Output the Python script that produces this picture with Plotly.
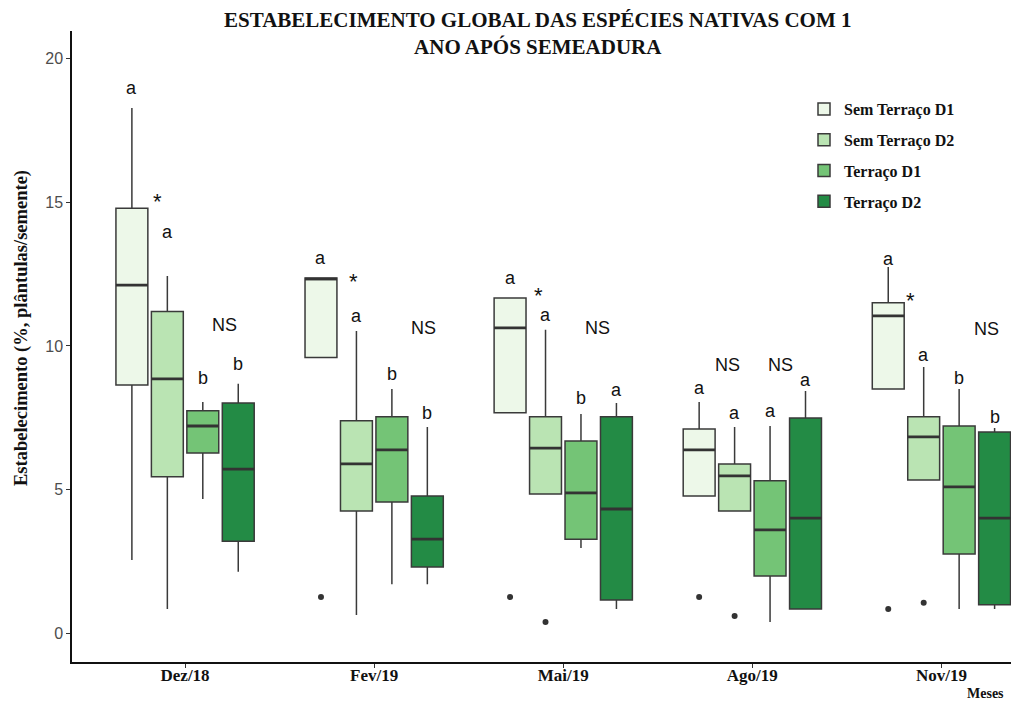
import plotly.graph_objects as go

months = ["Dez/18", "Fev/19", "Mai/19", "Ago/19", "Nov/19"]
groups = ["Sem Terraço D1", "Sem Terraço D2", "Terraço D1", "Terraço D2"]
colors = ["#EDF8E9", "#BAE4B3", "#74C476", "#238B45"]

# box statistics per group (one value per month)
lo_st1 = [2.54, 9.60, 7.67, 4.77, 8.50]
q1_st1 = [8.64, 9.60, 7.67, 4.77, 8.50]
md_st1 = [12.12, 12.33, 10.63, 6.38, 11.05]
q3_st1 = [14.80, 12.37, 11.67, 7.11, 11.50]
hi_st1 = [18.29, 12.37, 11.67, 8.05, 12.75]

lo_st2 = [0.84, 0.63, 4.84, 4.25, 5.33]
q1_st2 = [5.44, 4.25, 4.84, 4.25, 5.33]
md_st2 = [8.85, 5.89, 6.44, 5.47, 6.83]
q3_st2 = [11.20, 7.39, 7.53, 5.89, 7.53]
hi_st2 = [12.44, 10.52, 10.56, 7.18, 9.27]

lo_t1 = [4.67, 1.70, 2.96, 0.38, 0.84]
q1_t1 = [6.27, 4.56, 3.27, 1.99, 2.75]
md_t1 = [7.21, 6.38, 4.88, 3.59, 5.09]
q3_t1 = [7.74, 7.53, 6.69, 5.30, 7.21]
hi_t1 = [8.05, 8.50, 7.63, 7.21, 8.50]

lo_t2 = [2.13, 1.70, 0.84, 0.84, 0.84]
q1_t2 = [3.20, 2.30, 1.15, 0.84, 0.98]
md_t2 = [5.71, 3.27, 4.32, 4.00, 4.00]
q3_t2 = [8.01, 4.77, 7.53, 7.49, 7.00]
hi_t2 = [8.68, 7.18, 8.01, 8.43, 7.14]

# outliers: (month index, value)
out_st1_month = [1, 2, 3, 4]
out_st1_val = [1.25, 1.25, 1.25, 0.84]
out_st2_month = [2, 3, 4]
out_st2_val = [0.38, 0.59, 1.05]

# letters above each box
let_st1 = ["a", "a", "a", "a", "a"]
let_st2 = ["a", "a", "a", "a", "a"]
let_t1 = ["b", "b", "b", "a", "b"]
let_t2 = ["b", "b", "a", "a", "b"]
lety_st1 = [18.99, 13.07, 12.37, 8.54, 13.03]
lety_st2 = [13.97, 11.05, 11.08, 7.67, 9.69]
lety_t1 = [8.89, 9.02, 8.19, 7.74, 8.89]
lety_t2 = [9.37, 7.67, 8.47, 8.82, 7.53]

# asterisks (month index, x offset, y)
star_month = [0, 1, 2, 4]
star_dx = [-0.148, -0.111, -0.132, -0.164]
star_y = [15.19, 12.40, 11.92, 11.74]

# NS labels (month index, x offset, y)
ns_month = [0, 1, 2, 3, 3, 4]
ns_dx = [0.21, 0.26, 0.18, -0.13, 0.15, 0.24]
ns_y = [10.73, 10.63, 10.63, 9.34, 9.34, 10.59]

stats = [
    (lo_st1, q1_st1, md_st1, q3_st1, hi_st1),
    (lo_st2, q1_st2, md_st2, q3_st2, hi_st2),
    (lo_t1, q1_t1, md_t1, q3_t1, hi_t1),
    (lo_t2, q1_t2, md_t2, q3_t2, hi_t2),
]
letters = [let_st1, let_st2, let_t1, let_t2]
letter_ys = [lety_st1, lety_st2, lety_t1, lety_t2]

dodge = 0.75
slot = dodge / len(groups)
bw = slot * 0.9

def pos(m, g):
    return m + (g - (len(groups) - 1) / 2) * slot

SERIF = "Liberation Serif, Times New Roman, serif"
SANS = "Liberation Sans, Arial, sans-serif"

fig = go.Figure()
for g, name in enumerate(groups):
    lo, q1, md, q3, hi = stats[g]
    xs = [pos(m, g) for m in range(len(months))]
    fig.add_trace(go.Box(
        name=name, x=xs, q1=q1, median=md, q3=q3,
        lowerfence=lo, upperfence=hi,
        width=bw, whiskerwidth=0, fillcolor=colors[g],
        line=dict(color="#3a3a3a", width=1.5),
        boxpoints=False, hoverinfo="skip", legendgroup=name,
    ))

# thicker median segments (as in ggplot)
mx, my = [], []
for g in range(len(groups)):
    md = stats[g][2]
    for m in range(len(months)):
        c = pos(m, g)
        mx += [c - bw / 2, c + bw / 2, None]
        my += [md[m], md[m], None]
fig.add_trace(go.Scatter(x=mx, y=my, mode="lines", line=dict(color="#333333", width=2.8),
                         showlegend=False, hoverinfo="skip"))

for gi, (mlist, vals) in enumerate([(out_st1_month, out_st1_val), (out_st2_month, out_st2_val)]):
    fig.add_trace(go.Scatter(
        x=[pos(m, gi) for m in mlist], y=vals, mode="markers",
        marker=dict(color="#333333", size=6), showlegend=False, hoverinfo="skip",
    ))

ann = []
lab_font = dict(family=SANS, size=18, color="#111111")
for g in range(len(groups)):
    for m in range(len(months)):
        ann.append(dict(x=pos(m, g), y=letter_ys[g][m], text=letters[g][m],
                        showarrow=False, font=lab_font, xref="x", yref="y"))
for m, dx, y in zip(star_month, star_dx, star_y):
    ann.append(dict(x=m + dx, y=y - 0.15, text="*", showarrow=False,
                    font=dict(family=SANS, size=22, color="#111111"),
                    xref="x", yref="y"))
for m, dx, y in zip(ns_month, ns_dx, ns_y):
    ann.append(dict(x=m + dx, y=y, text="NS", showarrow=False, font=lab_font,
                    xref="x", yref="y"))

# title
ann.append(dict(x=(537 - 72) / 939, y=(662 - 34) / 631, xref="paper", yref="paper",
                text="ESTABELECIMENTO GLOBAL DAS ESPÉCIES NATIVAS COM 1<br>ANO APÓS SEMEADURA",
                showarrow=False, xanchor="center", yanchor="middle",
                font=dict(family=SERIF, size=21, color="#111111", weight="bold")))
# y-axis title
ann.append(dict(x=(22 - 72) / 939, y=(662 - 328) / 631, xref="paper", yref="paper",
                text="Estabelecimento (%, plântulas/semente)", textangle=-90,
                showarrow=False, xanchor="center", yanchor="middle",
                font=dict(family=SERIF, size=18.5, color="#111111", weight="bold")))
# x-axis title
ann.append(dict(x=(965 - 72) / 939, y=(662 - 694) / 631, xref="paper", yref="paper",
                text="Meses", showarrow=False, xanchor="left", yanchor="middle",
                font=dict(family=SERIF, size=14, color="#111111", weight="bold")))

fig.update_layout(
    width=1011, height=702,
    margin=dict(l=72, r=0, t=31, b=40),
    paper_bgcolor="white", plot_bgcolor="white",
    showlegend=True,
    legend=dict(x=(804 - 72) / 939, xanchor="left", y=(662 - 92) / 631, yanchor="top",
                bgcolor="rgba(0,0,0,0)", tracegroupgap=7,
                font=dict(family=SERIF, size=16, color="#111111", weight="bold")),
    annotations=ann,
    xaxis=dict(range=[-0.598, 4.368], tickvals=list(range(len(months))), ticktext=months,
               showgrid=False, zeroline=False, showline=True, linecolor="#111111", linewidth=1.5,
               ticks="outside", ticklen=4, tickcolor="#333333", ticklabelstandoff=-7,
               tickfont=dict(family=SERIF, size=17, color="#111111", weight="bold")),
    yaxis=dict(range=[-1.01, 20.97], tickvals=[0, 5, 10, 15, 20],
               showgrid=False, zeroline=False, showline=True, linecolor="#111111", linewidth=1.5,
               ticks="outside", ticklen=4, tickcolor="#333333",
               tickfont=dict(family=SANS, size=16, color="#4D4D4D")),
)

fig.write_html("out.html")
